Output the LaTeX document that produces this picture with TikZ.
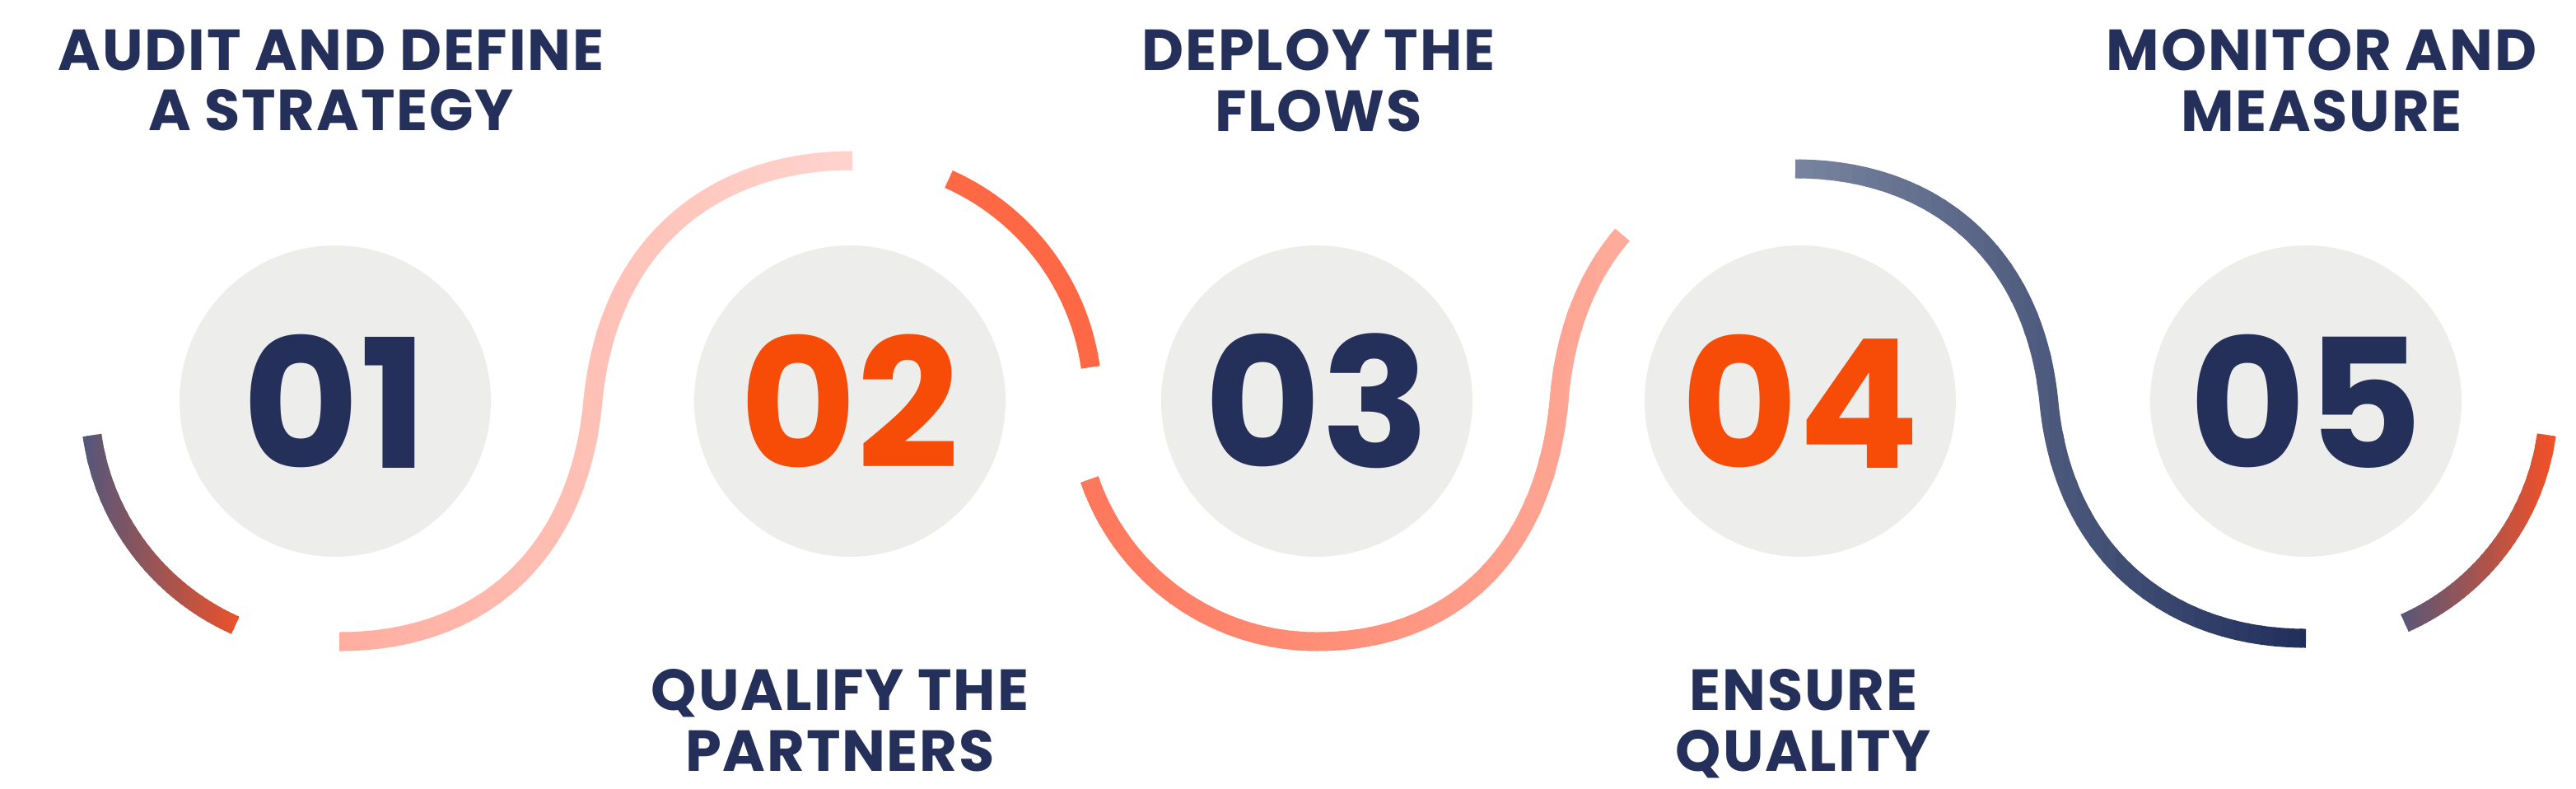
\documentclass[tikz,border=0pt]{standalone}
\usepackage{fontspec}
\newfontfamily\headfont[LetterSpace=2.5]{Poppins Bold}
\newfontfamily\numfont{Poppins Bold}

\definecolor{navy}{RGB}{36,48,90}
\definecolor{flame}{RGB}{247,75,8}
\definecolor{discgray}{RGB}{237,237,235}
\definecolor{coral}{RGB}{255,104,69}
\definecolor{slate}{RGB}{74,87,128}
\definecolor{ember}{RGB}{246,81,36}
\definecolor{blushA}{RGB}{255,172,158}
\definecolor{blushB}{RGB}{255,213,206}
\definecolor{salmonA}{RGB}{255,118,90}
\definecolor{salmonB}{RGB}{255,172,156}
\definecolor{mistA}{RGB}{122,134,160}
\definecolor{mistB}{RGB}{31,45,90}

% stroke a path with a left-to-right colour ramp, in thin vertical strips
\newcommand{\rampstroke}[5]{%
  \foreach \i in {0,...,39}{%
    \pgfmathsetmacro{\xa}{#1+(#2-#1)*\i/40-0.01}
    \pgfmathsetmacro{\xb}{#1+(#2-#1)*(\i+1)/40+0.01}
    \pgfmathsetmacro{\pct}{98.75-2.5*\i}
    \colorlet{rampcol}{#3!\pct!#4}
    \begin{scope}
      \clip (\xa,0) rectangle (\xb,9.57);
      \draw[wave,rampcol] #5;
    \end{scope}
  }%
}

\begin{document}
\begin{tikzpicture}[
  wave/.style={line width=0.23cm},
  disc/.style={circle, fill=discgray, minimum size=3.78cm, inner sep=0pt,
    font=\numfont\fontsize{62}{62}\selectfont},
  head/.style={align=center, inner sep=0pt, anchor=north, text=navy,
    font=\headfont\fontsize{20}{21}\selectfont}]
\useasboundingbox (0,0) rectangle (31.28,9.57);

% step discs
\node[disc, text=navy]  (n1) at (4.07,4.70)  {01};
\node[disc, text=flame] (n2) at (10.32,4.70) {02};
\node[disc, text=navy]  (n3) at (15.99,4.70) {03};
\node[disc, text=flame] (n4) at (21.86,4.70) {04};
\node[disc, text=navy]  (n5) at (28.00,4.70) {05};

% step titles
\node[head] (t1) at (4.02,9.22)  {AUDIT AND DEFINE\\A STRATEGY};
\node[head] (t2) at (10.20,1.45) {QUALIFY THE\\PARTNERS};
\node[head] (t3) at (16.01,9.22) {DEPLOY THE\\FLOWS};
\node[head] (t4) at (21.90,1.45) {ENSURE\\QUALITY};
\node[head] (t5) at (28.19,9.22) {MONITOR AND\\MEASURE};

% waves round the discs
\rampstroke{0.9}{3.05}{slate}{ember}{(n1.center) ++(188:2.98) arc[start angle=188, end angle=246, radius=2.98]}
\rampstroke{4.0}{10.5}{blushA}{blushB}{(4.12,1.78) .. controls +(1.7,0) and +(-0.18,-1.9) .. (7.20,4.70) .. controls +(0.18,1.9) and +(-1.7,0) .. (10.35,7.62)}
\draw[wave,coral] (n2.center) ++(66:2.95) arc[start angle=66, end angle=8, radius=2.95];
\rampstroke{13.0}{19.9}{salmonA}{salmonB}{(n3.center) ++(199:2.92) arc[start angle=199, end angle=270, radius=2.92] .. controls +(1.6,0) and +(-0.18,-1.9) .. (18.93,4.70) .. controls (19.00,5.56) and (19.28,6.23) .. (19.70,6.72)}
\rampstroke{21.7}{28.1}{mistA}{mistB}{(21.80,7.52) .. controls +(1.65,0) and +(-0.18,1.85) .. (24.88,4.68) .. controls +(0.18,-1.85) and +(-1.65,0) .. (28.00,1.82)}
\rampstroke{29.0}{31.05}{slate}{ember}{(n5.center) ++(-8:2.95) arc[start angle=-8, end angle=-66, radius=2.95]}

\end{tikzpicture}
\end{document}
